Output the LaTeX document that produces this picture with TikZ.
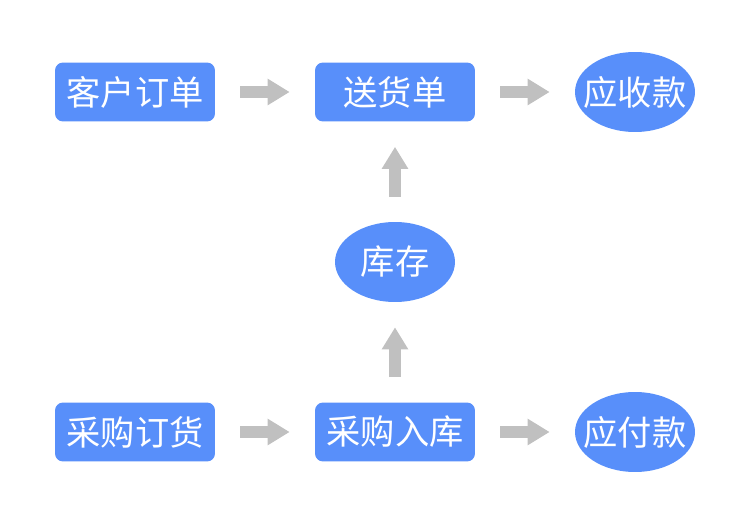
\documentclass[tikz,border=0pt]{standalone}
\usepackage{fontspec}
\newfontfamily\cjk{Noto Sans CJK SC}
\usetikzlibrary{arrows.meta,shapes.geometric}
\definecolor{boxblue}{RGB}{88,143,250}
\definecolor{arrowgray}{RGB}{192,192,192}

\begin{document}
\begin{tikzpicture}[x=.02cm,y=-.02cm,
  font=\cjk\fontsize{19.5}{24}\selectfont,
  doc/.style={fill=boxblue,text=white,rounded corners=.16cm,
    minimum width=3.2cm,minimum height=1.18cm,inner sep=0pt},
  acct/.style={ellipse,fill=boxblue,text=white,
    minimum width=2.4cm,minimum height=1.6cm,inner xsep=-.2cm,inner ysep=0pt},
  flow/.style={arrowgray,line width=.24cm,shorten <=.5cm,shorten >=.5cm,
    -{Triangle[length=.44cm,width=.5cm]}}]
  \path[use as bounding box] (0,0) rectangle (750,520);
  % sales side
  \node[doc] (order) at (135,92) {客户订单};
  \node[doc] (ship) at (395,92) {送货单};
  \node[acct] (recv) at (635,92) {应收款};
  % stock in the middle
  \node[acct] (stock) at (395,262) {库存};
  % purchase side
  \node[doc] (porder) at (135,432) {采购订货};
  \node[doc] (pin) at (395,432) {采购入库};
  \node[acct] (pay) at (635,432) {应付款};
  \draw[flow] (order)--(ship);
  \draw[flow] (ship)--(recv);
  \draw[flow] (porder)--(pin);
  \draw[flow] (pin)--(pay);
  \draw[flow] (pin)--(stock);
  \draw[flow] (stock)--(ship);
\end{tikzpicture}
\end{document}
